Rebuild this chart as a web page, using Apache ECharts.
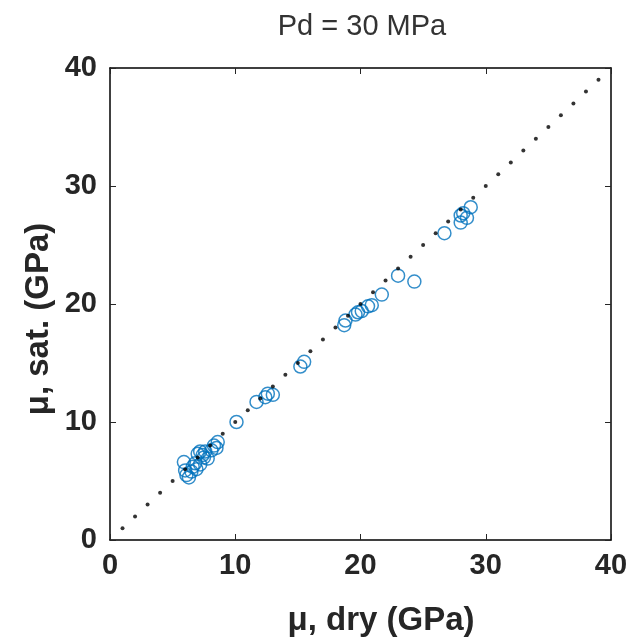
<!DOCTYPE html>
<html>
<head>
<meta charset="utf-8">
<script src="https://cdn.jsdelivr.net/npm/echarts@6/dist/echarts.min.js"></script>
<style>html,body{margin:0;padding:0;background:#fff}#c{width:638px;height:641px}</style>
</head>
<body>
<div id="c"></div>
<script>
// Data
const dryMu = [5.9, 6.0, 6.1, 6.3, 6.5, 6.6, 6.8, 6.9, 7.0, 7.2, 7.2, 7.4, 7.5, 7.6, 7.8, 8.1, 8.3, 8.5, 8.6,
  10.1, 11.7, 12.4, 12.6, 13.0, 15.2, 15.5,
  18.7, 18.8, 19.6, 19.8, 20.1, 20.6, 20.9, 21.7, 23.0, 24.3,
  26.7, 28.0, 28.0, 28.2, 28.5, 28.8];
const satMu = [6.6, 5.9, 5.5, 5.3, 5.8, 6.2, 6.5, 6.0, 7.3, 6.4, 7.5, 7.2, 7.0, 7.5, 6.9, 7.6, 8.0, 7.8, 8.3,
  10.0, 11.7, 12.1, 12.4, 12.3, 14.7, 15.1,
  18.2, 18.6, 19.1, 19.3, 19.4, 19.8, 19.9, 20.8, 22.4, 21.9,
  26.0, 26.9, 27.5, 27.7, 27.3, 28.2];
// 1:1 reference line markers
const refLine = [1,2,3,4,5,6,7,8,9,10,11,12,13,14,15,16,17,18,19,20,21,22,23,24,25,26,27,28,29,30,31,32,33,34,35,36,37,38,39];
const xTicks = [0, 10, 20, 30, 40];
const yTicks = [0, 10, 20, 30, 40];
const titleText = 'Pd = 30 MPa';
const xTitle = 'μ, dry (GPa)';
const yTitle = 'μ, sat. (GPa)';

const font = 'Liberation Sans, Arial, sans-serif';
const chart = echarts.init(document.getElementById('c'), null, {renderer: 'canvas'});
const axisCommon = {
  type: 'value', min: xTicks[0], max: xTicks[xTicks.length - 1], interval: 10,
  splitLine: {show: false},
  axisLine: {show: true, onZero: false, lineStyle: {color: '#000', width: 1.5}},
  axisTick: {show: true, inside: true, length: 6, lineStyle: {color: '#262626', width: 1}}
};
chart.setOption({
  animation: false,
  backgroundColor: '#fff',
  title: {
    text: titleText, left: 357, top: 7, textAlign: 'center',
    textStyle: {fontFamily: font, fontSize: 29, fontWeight: 'normal', color: '#333'}
  },
  grid: {left: 110, right: 27, top: 68, bottom: 101, containLabel: false},
  xAxis: [
    Object.assign({}, axisCommon, {
      position: 'bottom',
      axisLabel: {margin: 11, fontFamily: font, fontSize: 29, fontWeight: 'bold', color: '#262626'}
    }),
    Object.assign({}, axisCommon, {position: 'top', axisLabel: {show: false}})
  ],
  yAxis: [
    Object.assign({}, axisCommon, {
      min: yTicks[0], max: yTicks[yTicks.length - 1],
      position: 'left',
      axisLabel: {margin: 13, fontFamily: font, fontSize: 29, fontWeight: 'bold', color: '#262626'}
    }),
    Object.assign({}, axisCommon, {min: yTicks[0], max: yTicks[yTicks.length - 1], position: 'right', axisLabel: {show: false}})
  ],
  graphic: [
    {
      type: 'text', x: 381, y: 621,
      style: {text: xTitle, fontFamily: font, fontSize: 33, fontWeight: 'bold', fill: '#262626',
        textAlign: 'center', textVerticalAlign: 'middle'}
    },
    {
      type: 'text', x: 39, y: 319, rotation: Math.PI / 2,
      style: {text: yTitle, fontFamily: font, fontSize: 33, fontWeight: 'bold', fill: '#262626',
        textAlign: 'center', textVerticalAlign: 'middle'}
    }
  ],
  series: [
    {
      type: 'scatter', xAxisIndex: 0, yAxisIndex: 0,
      data: refLine.map(v => [v, v]),
      symbol: 'circle', symbolSize: 4,
      itemStyle: {color: '#000'}, silent: true, z: 3
    },
    {
      type: 'scatter', xAxisIndex: 0, yAxisIndex: 0,
      data: dryMu.map((v, i) => [v, satMu[i]]),
      symbol: 'circle', symbolSize: 13,
      itemStyle: {color: 'rgba(0,0,0,0)', borderColor: '#0072BD', borderWidth: 1.5},
      z: 2
    }
  ]
});
</script>
</body>
</html>
